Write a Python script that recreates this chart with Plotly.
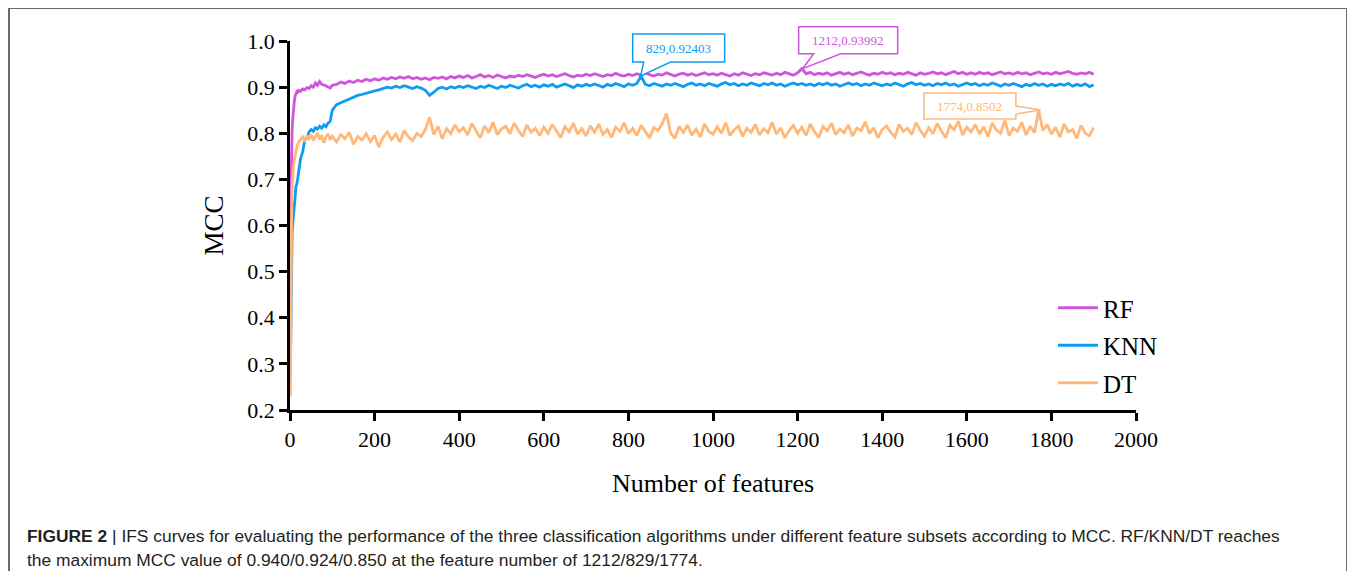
import plotly.graph_objects as go

# ---------------- data ----------------
features_early = [1, 2, 3, 4, 5, 6, 7, 8, 10, 12, 14, 16, 18, 20, 25, 30, 35, 40, 45, 50,
                  55, 60, 65, 70, 75, 80, 85, 90, 95, 100]
features_late = list(range(110, 1901, 10))
features = features_early + features_late

rf_mcc = [
    0.600, 0.680, 0.740, 0.780, 0.805, 0.825, 0.840, 0.852, 0.868, 0.880,
    0.887, 0.890, 0.889, 0.893, 0.891, 0.896, 0.894, 0.899, 0.897, 0.903,
    0.900, 0.909, 0.904, 0.912, 0.906, 0.905, 0.903, 0.900, 0.898, 0.904,
    0.906, 0.911, 0.908, 0.913, 0.910, 0.915, 0.912, 0.917, 0.914, 0.918,
    0.915, 0.920, 0.917, 0.921, 0.918, 0.922, 0.919, 0.923, 0.918, 0.921,
    0.917, 0.920, 0.916, 0.921, 0.919, 0.922, 0.918, 0.923, 0.920, 0.924,
    0.921, 0.925, 0.920, 0.923, 0.927, 0.922, 0.925, 0.921, 0.926, 0.923,
    0.920, 0.924, 0.922, 0.926, 0.923, 0.927, 0.924, 0.921, 0.925, 0.928,
    0.924, 0.927, 0.923, 0.926, 0.929, 0.925, 0.922, 0.926, 0.924, 0.928,
    0.925, 0.929, 0.926, 0.923, 0.927, 0.925, 0.930, 0.926, 0.924, 0.928,
    0.925, 0.929, 0.926, 0.930, 0.927, 0.924, 0.928, 0.926, 0.931, 0.927,
    0.924, 0.928, 0.930, 0.926, 0.929, 0.925, 0.928, 0.931, 0.927, 0.929,
    0.926, 0.930, 0.927, 0.924, 0.929, 0.926, 0.931, 0.928, 0.925, 0.929,
    0.927, 0.931, 0.928, 0.926, 0.930, 0.927, 0.932, 0.929, 0.926, 0.931,
    0.940, 0.929, 0.932, 0.927, 0.930, 0.928, 0.931, 0.926, 0.929, 0.932,
    0.928, 0.931, 0.927, 0.930, 0.933, 0.929, 0.926, 0.930, 0.928, 0.932,
    0.929, 0.931, 0.927, 0.930, 0.928, 0.932, 0.929, 0.926, 0.931, 0.928,
    0.930, 0.933, 0.929, 0.931, 0.927, 0.930, 0.934, 0.929, 0.932, 0.928,
    0.931, 0.928, 0.932, 0.929, 0.931, 0.927, 0.930, 0.933, 0.929, 0.931,
    0.928, 0.932, 0.929, 0.931, 0.927, 0.930, 0.933, 0.929, 0.931, 0.928,
    0.932, 0.929, 0.931, 0.934, 0.930, 0.928, 0.931, 0.929, 0.932, 0.928,
]

knn_mcc = [
    0.300, 0.420, 0.500, 0.550, 0.580, 0.600, 0.610, 0.605, 0.640, 0.660,
    0.685, 0.690, 0.700, 0.715, 0.745, 0.760, 0.785, 0.790, 0.803, 0.808,
    0.804, 0.812, 0.809, 0.815, 0.811, 0.818, 0.814, 0.822, 0.826, 0.850,
    0.862, 0.866, 0.870, 0.874, 0.878, 0.882, 0.884, 0.887, 0.889, 0.892,
    0.894, 0.897, 0.900, 0.898, 0.902, 0.899, 0.903, 0.900, 0.897, 0.901,
    0.898, 0.893, 0.882, 0.889, 0.897, 0.900, 0.896, 0.901, 0.898, 0.902,
    0.899, 0.903, 0.900, 0.897, 0.902, 0.899, 0.904, 0.900, 0.897, 0.902,
    0.899, 0.904, 0.901, 0.898, 0.903, 0.906, 0.901, 0.904, 0.900, 0.905,
    0.902, 0.906, 0.900, 0.904, 0.907, 0.903, 0.899, 0.905, 0.902, 0.906,
    0.903, 0.907, 0.904, 0.900, 0.906, 0.903, 0.908, 0.904, 0.901, 0.907,
    0.904, 0.908, 0.924, 0.906, 0.903, 0.908, 0.905, 0.902, 0.907, 0.904,
    0.908, 0.905, 0.901, 0.906, 0.909, 0.904, 0.907, 0.903, 0.908, 0.905,
    0.902, 0.907, 0.910, 0.905, 0.908, 0.903, 0.907, 0.904, 0.909, 0.906,
    0.903, 0.908, 0.905, 0.909, 0.904, 0.907, 0.902, 0.906, 0.909, 0.905,
    0.908, 0.904, 0.907, 0.903, 0.908, 0.905, 0.909, 0.904, 0.907, 0.902,
    0.906, 0.909, 0.905, 0.908, 0.903, 0.907, 0.904, 0.909, 0.906, 0.903,
    0.907, 0.904, 0.909, 0.905, 0.902, 0.907, 0.910, 0.905, 0.908, 0.904,
    0.907, 0.903, 0.908, 0.905, 0.909, 0.904, 0.907, 0.902, 0.906, 0.909,
    0.905, 0.908, 0.903, 0.907, 0.904, 0.909, 0.906, 0.902, 0.907, 0.904,
    0.908, 0.905, 0.901, 0.906, 0.903, 0.908, 0.904, 0.907, 0.902, 0.906,
    0.903, 0.907, 0.904, 0.908, 0.902, 0.906, 0.903, 0.907, 0.901, 0.905,
]

dt_mcc = [
    0.230, 0.450, 0.580, 0.640, 0.680, 0.700, 0.715, 0.725, 0.740, 0.752,
    0.762, 0.770, 0.776, 0.780, 0.786, 0.792, 0.782, 0.795, 0.788, 0.797,
    0.784, 0.793, 0.801, 0.787, 0.796, 0.779, 0.792, 0.799, 0.786, 0.794,
    0.781, 0.797, 0.788, 0.802, 0.776, 0.793, 0.785, 0.799, 0.782, 0.795,
    0.770, 0.791, 0.803, 0.786, 0.798, 0.781, 0.806, 0.792, 0.784, 0.800,
    0.793, 0.808, 0.835, 0.797, 0.815, 0.788, 0.810, 0.799, 0.818, 0.803,
    0.812, 0.796, 0.821, 0.805, 0.790, 0.816, 0.801, 0.824, 0.797, 0.809,
    0.815, 0.799, 0.822, 0.806, 0.793, 0.818, 0.802, 0.811, 0.795, 0.813,
    0.800, 0.819, 0.805, 0.791, 0.814, 0.803, 0.822, 0.798, 0.810, 0.794,
    0.816, 0.802, 0.820, 0.797, 0.808, 0.791, 0.813, 0.804, 0.823, 0.799,
    0.811, 0.795, 0.817, 0.803, 0.790, 0.812, 0.806, 0.821, 0.843, 0.800,
    0.789, 0.815, 0.802, 0.818, 0.796, 0.809, 0.792, 0.820, 0.804, 0.798,
    0.814, 0.800, 0.823, 0.795, 0.807, 0.816, 0.793, 0.811, 0.802, 0.819,
    0.796, 0.810, 0.801, 0.824, 0.798, 0.812, 0.790, 0.806, 0.817, 0.800,
    0.813, 0.795, 0.820, 0.803, 0.791, 0.815, 0.805, 0.822, 0.797, 0.809,
    0.801, 0.818, 0.794, 0.811, 0.806, 0.825, 0.799, 0.812, 0.790, 0.808,
    0.816, 0.802, 0.792, 0.819, 0.804, 0.811, 0.797, 0.823, 0.806, 0.794,
    0.812, 0.799, 0.821, 0.805, 0.790, 0.817, 0.808, 0.826, 0.796, 0.813,
    0.803, 0.819, 0.798, 0.814, 0.793, 0.822, 0.807, 0.800, 0.828, 0.795,
    0.811, 0.804, 0.824, 0.796, 0.815, 0.801, 0.850, 0.806, 0.819, 0.798,
    0.813, 0.792, 0.820, 0.803, 0.808, 0.789, 0.817, 0.800, 0.795, 0.812,
]

series_names = ["RF", "KNN", "DT"]
max_features = [1212, 829, 1774]
max_values = [0.93992, 0.92403, 0.8502]
max_labels = ["1212,0.93992", "829,0.92403", "1774,0.8502"]

x_ticks = [0, 200, 400, 600, 800, 1000, 1200, 1400, 1600, 1800, 2000]
y_ticks = [0.2, 0.3, 0.4, 0.5, 0.6, 0.7, 0.8, 0.9, 1.0]

caption_line1 = ("<b>FIGURE 2</b> | IFS curves for evaluating the performance of the three classification "
                 "algorithms under different feature subsets according to MCC. RF/KNN/DT reaches")
caption_line2 = "the maximum MCC value of 0.940/0.924/0.850 at the feature number of 1212/829/1774."

# ---------------- styling ----------------
colors = ["#CF55DF", "#0E9CF2", "#FFB878"]
PAGE_OFF = 8                      # browser body margin
W, H = 1355 - 2 * PAGE_OFF, 579 - 2 * PAGE_OFF
PLOT_L, PLOT_R, PLOT_T, PLOT_B = 290, 1136, 41, 410   # target page pixels
ML = PLOT_L - PAGE_OFF
MT = PLOT_T - PAGE_OFF
MR = W - (PLOT_R - PAGE_OFF)
MB = H - (PLOT_B - PAGE_OFF)
PW = PLOT_R - PLOT_L
PH = PLOT_B - PLOT_T
XR = [0, 2000]
YR = [0.2, 1.0]
SERIF = "Liberation Serif"


def page_to_paper(px, py):
    return ((px - PLOT_L) / PW, (PLOT_B - py) / PH)


fig = go.Figure()
for name, vals, col in zip(series_names, [rf_mcc, knn_mcc, dt_mcc], colors):
    fig.add_trace(go.Scatter(x=features, y=vals, mode="lines", name=name,
                             legendgroup=name,
                             line=dict(color=col, width=2.8)))


def to_paper(x, y):
    return ((x - XR[0]) / (XR[1] - XR[0]), (y - YR[0]) / (YR[1] - YR[0]))


def off(px, py, dx, dy):
    return (px + dx / PW, py - dy / PH)


shapes = []
annotations = []
callouts = [
    dict(box=(-4, 95, -42, -15), tail=(11, 38), side="bottom"),     # RF
    dict(box=(-8, 84, -42, -14), tail=(3, 30), side="bottom"),      # KNN
    dict(box=(-116.5, -24.5, -17, 9), tail=(-4, 4), side="right"),  # DT
]
for i, c in enumerate(callouts):
    ax, ay = to_paper(max_features[i], max_values[i])
    l, r, t, b = c["box"]
    a1, a2 = c["tail"]
    P = lambda dx, dy: off(ax, ay, dx, dy)
    if c["side"] == "bottom":
        pts = [P(l, t), P(r, t), P(r, b), P(a2, b), (ax, ay), P(a1, b), P(l, b)]
    else:
        pts = [P(l, t), P(r, t), P(r, a1), (ax, ay), P(r, a2), P(r, b), P(l, b)]
    path = "M " + " L ".join(f"{p[0]:.5f},{p[1]:.5f}" for p in pts) + " Z"
    shapes.append(dict(type="path", xref="paper", yref="paper", path=path,
                       line=dict(color=colors[i], width=1.5), fillcolor="white", layer="above"))
    cx, cy = P((l + r) / 2, (t + b) / 2)
    annotations.append(dict(x=cx, y=cy, xref="paper", yref="paper", text=max_labels[i],
                            showarrow=False, xanchor="center", yanchor="middle",
                            font=dict(family=SERIF, size=13, color=colors[i])))

# outer frame
fx0, fy0 = page_to_paper(9, 8)
fx1, fy1 = page_to_paper(1347, 600)
shapes.append(dict(type="rect", xref="paper", yref="paper", x0=fx0, x1=fx1, y0=fy1, y1=fy0,
                   line=dict(color="#6b6b6b", width=2), layer="below"))

# axis titles
tx, ty = page_to_paper(712, 483)
annotations.append(dict(x=0.5, y=ty, xref="paper", yref="paper",
                        text="Number of features", showarrow=False,
                        xanchor="center", yanchor="middle",
                        font=dict(family=SERIF, size=26, color="black")))
mx, my = page_to_paper(213, 226)
annotations.append(dict(x=mx, y=0.5, xref="paper", yref="paper",
                        text="MCC", showarrow=False, textangle=-90,
                        xanchor="center", yanchor="middle",
                        font=dict(family=SERIF, size=27, color="black")))
# caption
for txt, py in [(caption_line1, 536), (caption_line2, 560)]:
    cx, cy = page_to_paper(25, py)
    annotations.append(dict(x=cx, y=cy, xref="paper", yref="paper",
                            text=txt, showarrow=False, xanchor="left", yanchor="middle",
                            font=dict(family="Liberation Sans", size=17.4, color="#231f20")))

axis_common = dict(showgrid=False, zeroline=False, showline=True, linecolor="black",
                   linewidth=2.5, ticks="outside", ticklen=8, tickwidth=2.5,
                   tickcolor="black", mirror=False,
                   tickfont=dict(family=SERIF, size=22, color="black"))

lx, ly = page_to_paper(1053, 285)
fig.update_layout(
    width=W, height=H,
    margin=dict(l=ML, r=MR, t=MT, b=MB, autoexpand=False),
    paper_bgcolor="white", plot_bgcolor="white",
    xaxis=dict(range=XR, tickvals=x_ticks, ticktext=[str(v) for v in x_ticks], **axis_common),
    yaxis=dict(range=YR, tickvals=y_ticks, ticktext=[f"{v:.1f}" for v in y_ticks], **axis_common),
    legend=dict(x=lx, y=ly, xanchor="left", yanchor="top",
                font=dict(family=SERIF, size=25, color="black"),
                bgcolor="rgba(0,0,0,0)", tracegroupgap=2, itemwidth=40),
    shapes=shapes,
    annotations=annotations,
    showlegend=True,
)

fig.write_html("out.html")
